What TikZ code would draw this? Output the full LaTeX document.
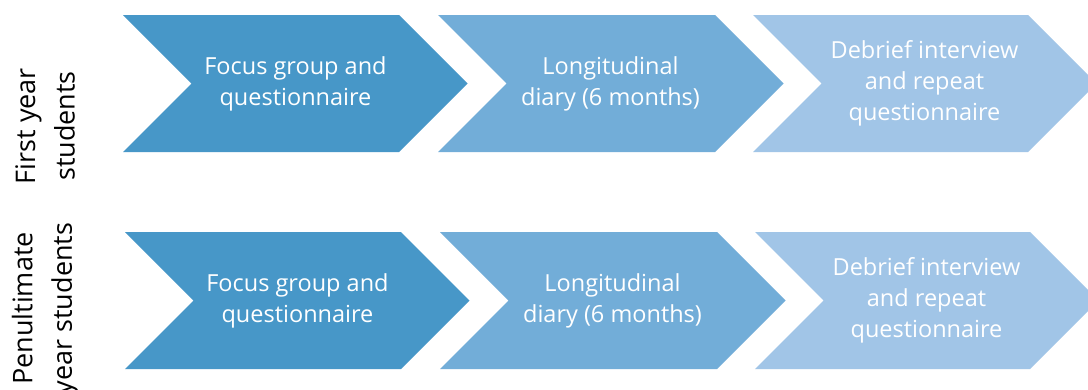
\documentclass[tikz,border=0pt]{standalone}
\usepackage{fontspec}
\setmainfont{Open Sans}
\definecolor{stepA}{HTML}{4797C8}
\definecolor{stepB}{HTML}{72ADD8}
\definecolor{stepC}{HTML}{A1C5E7}
\tikzset{
  steptext/.style={text=white, align=center, inner sep=0pt,
    font=\fontsize{23.5}{31}\selectfont},
  rowlabel/.style={text=black, align=center, inner sep=0pt, rotate=90,
    font=\fontsize{27}{39.5}\selectfont},
}
% chevron: left x, width of the flat top, top y, bottom y, colour
\newcommand\chevronshape[5]{%
  \fill[#5] (#1,#3) -- ({#1+#2},#3) -- ({#1+#2+68.5},{(#3+#4)/2})
    -- ({#1+#2},#4) -- (#1,#4) -- ({#1+68.5},{(#3+#4)/2}) -- cycle;}
\begin{document}
\begin{tikzpicture}[x=1pt, y=-1pt]
  \clip (0,0) rectangle (1088,389);
  \fill[white] (0,0) rectangle (1088,389);

  % first year row
  \chevronshape{123}{276}{15}{152}{stepA}
  \chevronshape{438}{277}{15}{152}{stepB}
  \chevronshape{753}{275}{15}{152}{stepC}
  \node[steptext] (fa) at (295.5,84) {Focus group and\\questionnaire};
  \node[steptext] (fb) at (610.5,84) {Longitudinal\\diary (6 months)};
  \node[steptext] (fc) at (924.5,83) {Debrief interview\\and repeat\\questionnaire};

  % penultimate year row
  \chevronshape{125}{276}{232}{369}{stepA}
  \chevronshape{440}{277}{232}{369}{stepB}
  \chevronshape{755}{275}{232}{369}{stepC}
  \node[steptext] (pa) at (297.5,301) {Focus group and\\questionnaire};
  \node[steptext] (pb) at (612.5,301) {Longitudinal\\diary (6 months)};
  \node[steptext] (pc) at (926.5,300) {Debrief interview\\and repeat\\questionnaire};

  % row labels
  \node[rowlabel] (lfirst) at (45,126) {First year\\students};
  \node[rowlabel] (lpen) at (45,308.5) {Penultimate\\year students};
\end{tikzpicture}
\end{document}
